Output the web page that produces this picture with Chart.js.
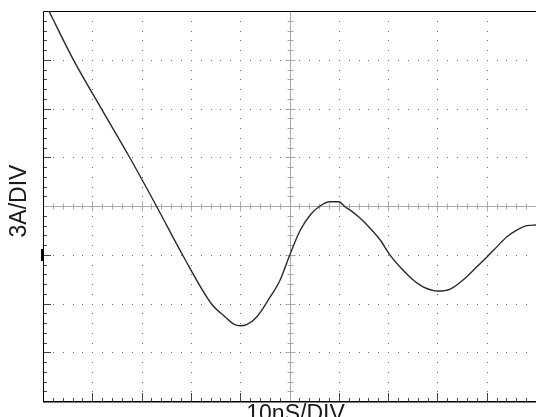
<!DOCTYPE html>
<html>
<head>
<meta charset="utf-8">
<script src="https://cdn.jsdelivr.net/npm/chart.js@4/dist/chart.umd.min.js"></script>
<style>
html, body { margin: 0; padding: 0; background: #fff; }
#wrap { width: 536px; height: 417px; }
</style>
</head>
<body>
<div id="wrap"><canvas id="scope"></canvas></div>
<script>
// ringing current trace, 10 ns and 3 A per division
const timeNs = [1.2, 6.2, 11.8, 17.5, 23.0, 28.4, 34.2, 36.9, 38.7, 40.0, 41.4, 43.4, 45.7, 48.1, 50.0, 52.1, 54.2, 56.2, 58.2, 60.0, 61.3, 62.3, 64.3, 66.3, 68.4, 70.4, 73.0, 75.1, 77.1, 80.1, 82.6, 85.2, 88.0, 90.1, 92.1, 94.1, 96.1, 98.2, 100];
const currentA = [12.0, 8.98, 6.01, 3.03, 0, -3.06, -6.03, -6.81, -7.27, -7.37, -7.28, -6.81, -5.78, -4.55, -3.06, -1.54, -0.55, 0, 0.26, 0.26, -0.06, -0.25, -0.74, -1.35, -2.09, -3.02, -3.94, -4.55, -4.97, -5.23, -5.11, -4.55, -3.74, -3.12, -2.5, -1.89, -1.48, -1.21, -1.17];

const xDivs = [0, 10, 20, 30, 40, 50, 60, 70, 80, 90, 100];
const yDivs = [-12, -9, -6, -3, 0, 3, 6, 9, 12];
const xLabel = '10nS/DIV';
const yLabel = '3A/DIV';
const groundLevel = -3;

// dotted graticule, centre crosshair, edge ticks and labels
const graticule = {
  id: 'graticule',
  beforeDatasetsDraw(chart) {
    const { ctx, chartArea: a, scales: { x, y } } = chart;
    const xStep = (xDivs[1] - xDivs[0]) / 5;
    const yStep = (yDivs[1] - yDivs[0]) / 5;
    const xMinor = [], yMinor = [];
    for (let v = xDivs[0]; v <= xDivs[xDivs.length - 1] + 1e-6; v += xStep) xMinor.push(v);
    for (let v = yDivs[0]; v <= yDivs[yDivs.length - 1] + 1e-6; v += yStep) yMinor.push(v);
    const cx = (xDivs[0] + xDivs[xDivs.length - 1]) / 2;
    const cy = (yDivs[0] + yDivs[yDivs.length - 1]) / 2;

    ctx.save();
    ctx.fillStyle = '#6a6a6a';
    // dots along vertical division lines
    xDivs.slice(1, -1).forEach(v => {
      if (v === cx) return;
      const px = Math.round(x.getPixelForValue(v));
      yMinor.forEach(w => ctx.fillRect(px, Math.round(y.getPixelForValue(w)), 1, 1));
    });
    // dots along horizontal division lines
    yDivs.slice(1, -1).forEach(w => {
      if (w === cy) return;
      const py = Math.round(y.getPixelForValue(w));
      xMinor.forEach(v => ctx.fillRect(Math.round(x.getPixelForValue(v)), py, 1, 1));
    });

    // left and bottom edge ticks
    ctx.fillStyle = '#444';
    yMinor.forEach(w => {
      const py = Math.round(y.getPixelForValue(w));
      const major = yDivs.includes(Math.round(w * 100) / 100);
      ctx.fillRect(a.left + 1, py, major ? 7 : 3, 1);
    });
    xMinor.forEach(v => {
      const px = Math.round(x.getPixelForValue(v));
      const major = xDivs.includes(Math.round(v * 100) / 100);
      ctx.fillRect(px, a.bottom - (major ? 8 : 3), 1, major ? 8 : 3);
    });

    // centre crosshair with minor ticks
    const px0 = Math.round(x.getPixelForValue(cx)) + 0.5;
    const py0 = Math.round(y.getPixelForValue(cy)) + 0.5;
    ctx.strokeStyle = '#a8a8a8';
    ctx.lineWidth = 1;
    ctx.beginPath();
    ctx.moveTo(a.left, py0); ctx.lineTo(a.right, py0);
    ctx.moveTo(px0, a.top); ctx.lineTo(px0, a.bottom);
    xMinor.forEach(v => {
      const px = Math.round(x.getPixelForValue(v)) + 0.5;
      const h = xDivs.includes(Math.round(v * 100) / 100) ? 5 : 3;
      ctx.moveTo(px, py0 - h); ctx.lineTo(px, py0 + h);
    });
    yMinor.forEach(w => {
      const py = Math.round(y.getPixelForValue(w)) + 0.5;
      const h = yDivs.includes(Math.round(w * 100) / 100) ? 5 : 3;
      ctx.moveTo(px0 - h, py); ctx.lineTo(px0 + h, py);
    });
    ctx.stroke();

    // frame
    ctx.strokeStyle = '#000';
    ctx.beginPath();
    ctx.moveTo(a.left + 0.5, a.bottom + 1);
    ctx.lineTo(a.left + 0.5, a.top + 0.5);
    ctx.lineTo(a.right, a.top + 0.5);
    ctx.stroke();
    ctx.lineWidth = 1.5;
    ctx.beginPath();
    ctx.moveTo(a.left, a.bottom + 0.75);
    ctx.lineTo(a.right, a.bottom + 0.75);
    ctx.stroke();

    // ground marker
    const gy = y.getPixelForValue(groundLevel);
    ctx.fillStyle = '#000';
    ctx.fillRect(a.left - 2, Math.round(gy) - 6, 3, 12);

    // axis labels
    ctx.fillStyle = '#1a1a1a';
    ctx.font = '23px "Liberation Sans", Arial, sans-serif';
    ctx.textAlign = 'center';
    ctx.textBaseline = 'alphabetic';
    ctx.fillText(xLabel, x.getPixelForValue(cx) + 6, a.bottom + 20);
    ctx.translate(26, y.getPixelForValue(cy) - 5);
    ctx.rotate(-Math.PI / 2);
    ctx.fillText(yLabel, 0, 0);
    ctx.restore();
  }
};

new Chart(document.getElementById('scope'), {
  type: 'line',
  data: {
    labels: timeNs,
    datasets: [{
      data: timeNs.map((t, i) => ({ x: t, y: currentA[i] })),
      borderColor: '#2a2a2a',
      borderWidth: 1.4,
      pointRadius: 0,
      cubicInterpolationMode: 'monotone',
      fill: false
    }]
  },
  options: {
    responsive: true,
    maintainAspectRatio: false,
    animation: false,
    layout: { padding: { left: 43, top: 11, right: 0, bottom: 16 } },
    plugins: { legend: { display: false }, tooltip: { enabled: false } },
    scales: {
      x: { type: 'linear', min: xDivs[0], max: xDivs[xDivs.length - 1], display: false },
      y: { type: 'linear', min: yDivs[0], max: yDivs[yDivs.length - 1], display: false }
    }
  },
  plugins: [graticule]
});
</script>
</body>
</html>
